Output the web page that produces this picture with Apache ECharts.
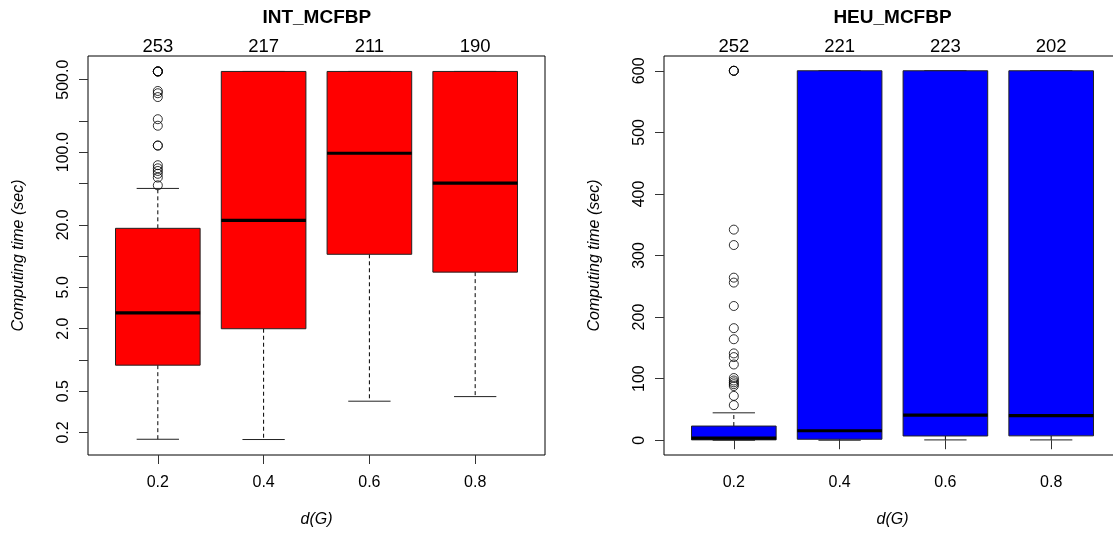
<!DOCTYPE html>
<html>
<head>
<meta charset="utf-8">
<script src="https://cdn.jsdelivr.net/npm/echarts@6/dist/echarts.min.js"></script>
<style>
  html, body { margin: 0; padding: 0; background: #fff; }
  #chart { width: 1113px; height: 536px; }
</style>
</head>
<body>
<div id="chart"></div>
<script>
// ---------------- data ----------------
const categories = ['0.2', '0.4', '0.6', '0.8'];
const catPos = [1, 2, 3, 4];

// INT_MCFBP (log scale)
const intCounts = [253, 217, 211, 190];
const intMin    = [0.172, 0.171, 0.40, 0.443];
const intQ1     = [0.889, 1.995, 10.4, 7.0];
const intMedian = [2.84, 22.1, 97.8, 50.3];
const intQ3     = [18.5, 600, 600, 600];
const intMax    = [44.8, 600, 600, 600];
const intOutliers02 = [600, 600, 600, 600, 389, 370, 340, 208, 180, 116, 116, 75, 70, 66, 62, 57, 48];

// HEU_MCFBP (linear scale)
const heuCounts = [252, 221, 223, 202];
const heuMin    = [0, 0, 0.5, 0.5];
const heuQ1     = [0.6, 1.6, 6.9, 7.1];
const heuMedian = [3.3, 15.4, 40.8, 40.0];
const heuQ3     = [23.0, 600, 600, 600];
const heuMax    = [44.5, 600, 600, 600];
const heuOutliers02 = [600, 600, 600, 342, 317, 264, 256, 218, 182, 164, 141, 135, 123, 101, 97, 94, 91, 88, 72, 57];

const intTickValues  = [0.2, 0.5, 1, 2, 5, 10, 20, 50, 100, 200, 500];
const intLabelValues = [0.2, 0.5, 2, 5, 20, 100, 500];
const heuTickValues  = [0, 100, 200, 300, 400, 500, 600];

// ---------------- helpers ----------------
const FONT = 'Liberation Sans, Arial, Helvetica, sans-serif';

function boxData(mins, q1, med, q3, maxs) {
  return catPos.map((p, i) => [p, mins[i], q1[i], med[i], q3[i], maxs[i]]);
}
function outlierData(pos, vals) {
  return vals.map(v => [pos, v]);
}

function makeRender(fill) {
  return function (params, api) {
    const x = api.value(0);
    const lo = api.coord([x, api.value(1)]);
    const q1 = api.coord([x, api.value(2)]);
    const md = api.coord([x, api.value(3)]);
    const q3 = api.coord([x, api.value(4)]);
    const hi = api.coord([x, api.value(5)]);
    const left = api.coord([x - 0.4, api.value(3)])[0];
    const right = api.coord([x + 0.4, api.value(3)])[0];
    const cx = lo[0];
    const halfCap = (right - left) / 4;
    const dash = { stroke: '#000', lineWidth: 1, lineDash: [4, 3] };
    const solid = { stroke: '#222', lineWidth: 1 };
    return {
      type: 'group',
      children: [
        { type: 'line', shape: { x1: cx, y1: q3[1], x2: cx, y2: hi[1] }, style: dash },
        { type: 'line', shape: { x1: cx, y1: q1[1], x2: cx, y2: lo[1] }, style: dash },
        { type: 'line', shape: { x1: cx - halfCap, y1: hi[1], x2: cx + halfCap, y2: hi[1] }, style: solid },
        { type: 'line', shape: { x1: cx - halfCap, y1: lo[1], x2: cx + halfCap, y2: lo[1] }, style: solid },
        { type: 'rect', shape: { x: left, y: q3[1], width: right - left, height: q1[1] - q3[1] },
          style: { fill: fill, stroke: '#222', lineWidth: 1 } },
        { type: 'line', shape: { x1: left, y1: md[1], x2: right, y2: md[1] },
          style: { stroke: '#000', lineWidth: 3.2 } }
      ]
    };
  };
}

function bottomXAxis(gi, nameText) {
  return {
    type: 'value', gridIndex: gi, position: 'bottom', min: 0.34, max: 4.66,
    splitLine: { show: false },
    axisLine: { show: false },
    axisTick: { show: true, customValues: catPos, length: 9, lineStyle: { color: '#333', width: 1 } },
    axisLabel: { customValues: catPos, margin: 20, fontSize: 16, color: '#000', fontFamily: FONT,
      formatter: v => categories[Math.round(v) - 1] },
    name: nameText, nameLocation: 'middle', nameGap: 57,
    nameTextStyle: { fontSize: 16, fontStyle: 'italic', color: '#000', fontFamily: FONT }
  };
}
function topXAxis(gi, counts) {
  return {
    type: 'value', gridIndex: gi, position: 'top', min: 0.34, max: 4.66,
    splitLine: { show: false }, axisLine: { show: false }, axisTick: { show: false },
    axisLabel: { customValues: catPos, margin: 0, fontSize: 18.5, color: '#000', fontFamily: FONT,
      formatter: v => String(counts[Math.round(v) - 1]) }
  };
}

const chart = echarts.init(document.getElementById('chart'), null, { renderer: 'canvas' });

const option = {
  animation: false,
  backgroundColor: '#fff',
  title: [
    { text: 'INT_MCFBP', left: 316.8, top: 8, textAlign: 'center', padding: 0,
      textStyle: { fontSize: 19, fontWeight: 'bold', color: '#000', fontFamily: FONT } },
    { text: 'HEU_MCFBP', left: 892.5, top: 8, textAlign: 'center', padding: 0,
      textStyle: { fontSize: 19, fontWeight: 'bold', color: '#000', fontFamily: FONT } }
  ],
  grid: [
    { left: 88, top: 56, width: 457, height: 399, show: true, borderColor: '#000', borderWidth: 1,
      backgroundColor: 'transparent', containLabel: false, outerBoundsMode: 'none' },
    { left: 664, top: 56, width: 457, height: 399, show: true, borderColor: '#000', borderWidth: 1,
      backgroundColor: 'transparent', containLabel: false, outerBoundsMode: 'none' }
  ],
  xAxis: [
    bottomXAxis(0, 'd(G)'),
    topXAxis(0, intCounts),
    bottomXAxis(1, 'd(G)'),
    topXAxis(1, heuCounts)
  ],
  yAxis: [
    {
      type: 'log', logBase: 10, gridIndex: 0, min: 0.1213, max: 845,
      splitLine: { show: false }, axisLine: { show: false },
      axisTick: { show: true, customValues: intTickValues, length: 9, lineStyle: { color: '#333' } },
      axisLabel: { customValues: intLabelValues, rotate: 90, margin: 16, fontSize: 16, color: '#000',
        fontFamily: FONT, formatter: v => Number(v).toFixed(1) },
      name: 'Computing time (sec)', nameLocation: 'middle', nameGap: 61,
      nameTextStyle: { fontSize: 16, fontStyle: 'italic', color: '#000', fontFamily: FONT }
    },
    {
      type: 'value', gridIndex: 1, min: -24, max: 624,
      splitLine: { show: false }, axisLine: { show: false },
      axisTick: { show: true, customValues: heuTickValues, length: 9, lineStyle: { color: '#333' } },
      axisLabel: { customValues: heuTickValues, rotate: 90, margin: 16, fontSize: 16, color: '#000',
        fontFamily: FONT, formatter: v => String(Math.round(v)) },
      name: 'Computing time (sec)', nameLocation: 'middle', nameGap: 61,
      nameTextStyle: { fontSize: 16, fontStyle: 'italic', color: '#000', fontFamily: FONT }
    }
  ],
  series: [
    {
      type: 'custom', xAxisIndex: 0, yAxisIndex: 0,
      renderItem: makeRender('#FF0000'),
      encode: { x: 0, y: [1, 2, 3, 4, 5] },
      data: boxData(intMin, intQ1, intMedian, intQ3, intMax), z: 2
    },
    {
      type: 'scatter', xAxisIndex: 0, yAxisIndex: 0, symbol: 'circle', symbolSize: 9,
      itemStyle: { color: 'rgba(0,0,0,0)', borderColor: '#000', borderWidth: 1 },
      data: outlierData(1, intOutliers02), z: 3
    },
    {
      type: 'custom', xAxisIndex: 2, yAxisIndex: 1,
      renderItem: makeRender('#0000FF'),
      encode: { x: 0, y: [1, 2, 3, 4, 5] },
      data: boxData(heuMin, heuQ1, heuMedian, heuQ3, heuMax), z: 2
    },
    {
      type: 'scatter', xAxisIndex: 2, yAxisIndex: 1, symbol: 'circle', symbolSize: 9,
      itemStyle: { color: 'rgba(0,0,0,0)', borderColor: '#000', borderWidth: 1 },
      data: outlierData(1, heuOutliers02), z: 3
    }
  ]
};
chart.setOption(option);
</script>
</body>
</html>
